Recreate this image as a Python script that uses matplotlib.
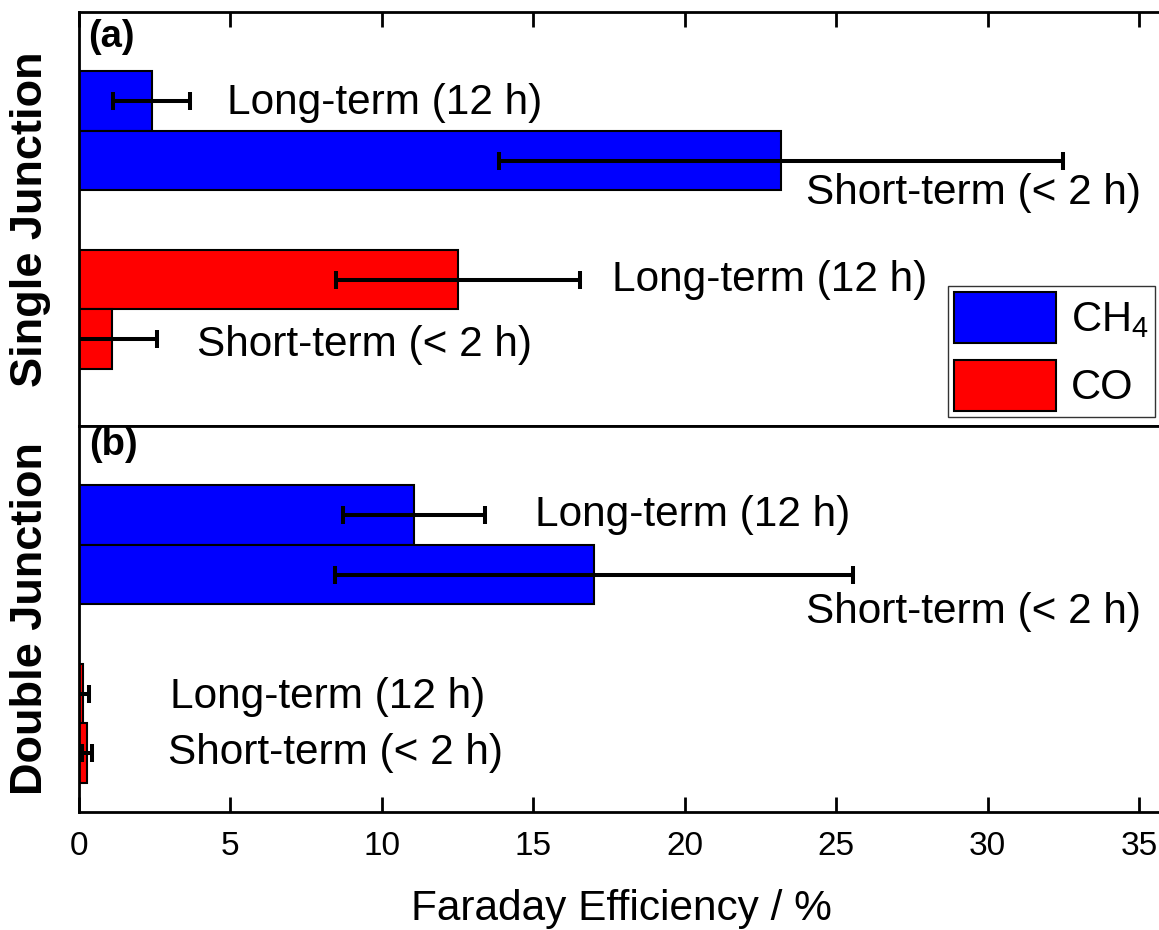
import matplotlib
matplotlib.use("Agg")
import matplotlib.pyplot as plt
from matplotlib.patches import Patch

plt.rcParams['font.family'] = ['Liberation Sans', 'DejaVu Sans']
plt.rcParams['mathtext.default'] = 'regular'

# ---------------- data ----------------
terms = ["Long-term (12 h)", "Short-term (< 2 h)"]
species = ["CH$_4$", "CO"]
colors = ["#0000FF", "#FF0000"]

# panel (a): Single Junction  [long, short]
single_ch4 = [2.40, 23.18]
single_ch4_err = [1.27, 9.30]
single_co = [12.51, 1.09]
single_co_err = [4.03, 1.50]

# panel (b): Double Junction  [long, short]
double_ch4 = [11.06, 17.00]
double_ch4_err = [2.34, 8.56]
double_co = [0.14, 0.27]
double_co_err = [0.20, 0.16]

xticks = [0, 5, 10, 15, 20, 25, 30, 35]

# ---------------- layout ----------------
W, H = 1159, 930
fig = plt.figure(figsize=(W / 100, H / 100), dpi=100)
ppu = 30.29  # pixels per x unit
x0 = 79
xmax = 36
axw = xmax * ppu / W
ax1 = fig.add_axes([x0 / W, 1 - 426 / H, axw, (426 - 12) / H])
ax2 = fig.add_axes([x0 / W, 1 - 812 / H, axw, (812 - 426) / H])

ypos_ch4 = [1.5, 2.5]
ypos_co = [4.5, 5.5]

err_kw = dict(ecolor='black', elinewidth=2.9, capsize=6.5, capthick=2.9)

def draw(ax, ch4, ch4e, co, coe):
    ax.barh(ypos_ch4, ch4, height=1.0, xerr=ch4e, color=colors[0],
            edgecolor='black', linewidth=1.5, error_kw=err_kw)
    ax.barh(ypos_co, co, height=1.0, xerr=coe, color=colors[1],
            edgecolor='black', linewidth=1.5, error_kw=err_kw)

draw(ax1, single_ch4, single_ch4_err, single_co, single_co_err)
draw(ax2, double_ch4, double_ch4_err, double_co, double_co_err)

ax1.set_ylim(6.96, 0)
ax2.set_ylim(6.49, 0)
for ax in (ax1, ax2):
    ax.set_xlim(0, xmax)
    ax.set_xticks(xticks)
    ax.set_yticks([])
    for s in ax.spines.values():
        s.set_linewidth(2.0)

ax1.tick_params(axis='x', top=True, bottom=False, labeltop=False,
                labelbottom=False, direction='in', length=11, width=2)
ax2.tick_params(axis='x', top=False, bottom=True, labelbottom=True,
                direction='in', length=11, width=2, labelsize=24, pad=14)

fs = 30.5
# annotations (panel a)
ax1.text(4.89, 1.53, terms[0], fontsize=fs, va='center', ha='left')
ax1.text(35.05, 3.05, terms[1], fontsize=fs, va='center', ha='right')
ax1.text(17.6, 4.5, terms[0], fontsize=fs, va='center', ha='left')
ax1.text(3.9, 5.6, terms[1], fontsize=fs, va='center', ha='left')
# annotations (panel b)
ax2.text(15.05, 1.5, terms[0], fontsize=fs, va='center', ha='left')
ax2.text(35.05, 3.13, terms[1], fontsize=fs, va='center', ha='right')
ax2.text(3.0, 4.55, terms[0], fontsize=fs, va='center', ha='left')
ax2.text(2.94, 5.5, terms[1], fontsize=fs, va='center', ha='left')

ax1.text(9 / (xmax * ppu), (426 - 19) / 414, "(a)", transform=ax1.transAxes,
         fontsize=27.5, fontweight='bold', va='top', ha='left')
ax2.text(10 / (xmax * ppu), (812 - 426) / 386 - 1 / 386, "(b)", transform=ax2.transAxes,
         fontsize=27.5, fontweight='bold', va='top', ha='left')

ax1.set_ylabel("Single Junction", fontsize=32.5, fontweight='bold')
ax2.set_ylabel("Double Junction", fontsize=32.5, fontweight='bold')
ax1.yaxis.set_label_coords(-0.026, 0.5)
ax2.yaxis.set_label_coords(-0.026, 0.5)

ax2.set_xlabel("Faraday Efficiency / %", fontsize=30.5)
ax2.xaxis.set_label_coords((621 - x0) / (xmax * ppu), -0.2)
ax2.xaxis.label.set_va('top')

handles = [Patch(facecolor=colors[0], edgecolor='black', linewidth=1.5),
           Patch(facecolor=colors[1], edgecolor='black', linewidth=1.5)]
leg = ax1.legend(handles, species, loc='upper left',
                 bbox_to_anchor=(948 / W, 1 - 286 / H), bbox_transform=fig.transFigure,
                 fontsize=30, frameon=True, fancybox=False, framealpha=1,
                 edgecolor='#333333', handlelength=2.45, handleheight=1.5,
                 handletextpad=0.35, labelspacing=0.4, borderpad=0.15,
                 borderaxespad=0)
leg.get_frame().set_linewidth(1.0)

fig.savefig("out.png", dpi=100)
